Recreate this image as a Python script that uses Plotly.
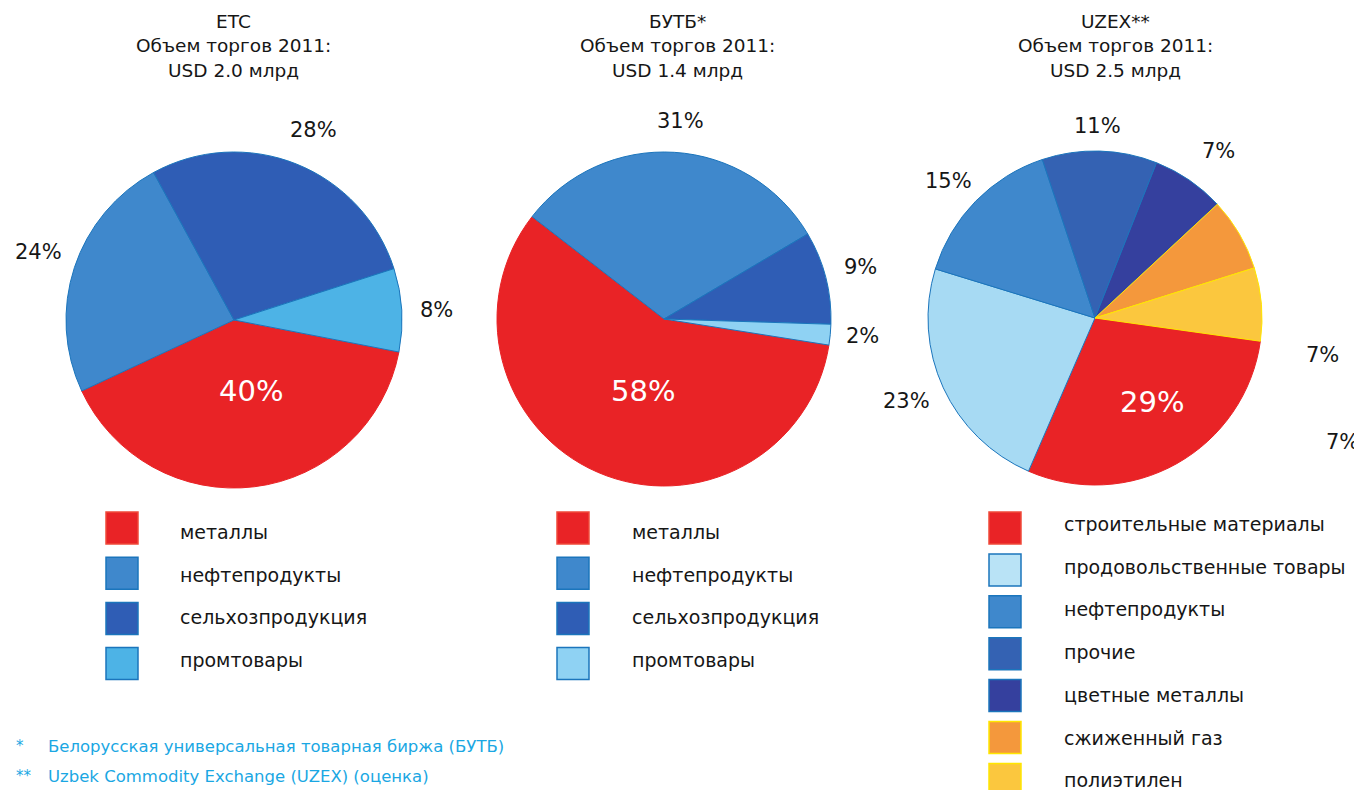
import plotly.graph_objects as go

# page is 1362x790; the browser body has an 8px margin, so the figure is 8px smaller
PAGE_W, PAGE_H = 1362, 790
OFF = 8
W, H = PAGE_W - OFF, PAGE_H - OFF

# ---------------- data ----------------
etc_labels = ["металлы", "нефтепродукты", "сельхозпродукция", "промтовары"]
etc_values = [40, 24, 28, 8]

butb_labels = ["металлы", "нефтепродукты", "сельхозпродукция", "промтовары"]
butb_values = [58, 31, 9, 2]

uzex_labels = ["строительные материалы", "продовольственные товары", "нефтепродукты",
               "прочие", "цветные металлы", "сжиженный газ", "полиэтилен"]
uzex_values = [29, 23, 15, 11, 7, 7, 7]

title_names = ["ETC", "БУТБ*", "UZEX**"]
title_sub = "Объем торгов 2011:"
title_volumes = ["USD 2.0 млрд", "USD 1.4 млрд", "USD 2.5 млрд"]

footnotes = [("*", "Белорусская универсальная товарная биржа (БУТБ)"),
             ("**", "Uzbek Commodity Exchange (UZEX) (оценка)")]

# ---------------- styles ----------------
RED = "#e92326"
OIL = "#3f88cc"
AGRO = "#2f5db5"
IND = "#4db3e6"
FOOD = "#a7daf3"
OTHER = "#3462b3"
NONFER = "#35409e"
GAS = "#f4983c"
POLY = "#fbc73e"
EDGE_BLUE = "#1b75bc"
EDGE_YEL = "#ffe600"
TXT = "#161616"
NOTE = "#1aa7e3"

etc_colors = [RED, OIL, AGRO, IND]
butb_colors = [RED, OIL, AGRO, "#8fd2f3"]
uzex_colors = [RED, FOOD, OIL, OTHER, NONFER, GAS, POLY]
etc_edges = [RED, EDGE_BLUE, EDGE_BLUE, EDGE_BLUE]
butb_edges = [RED, EDGE_BLUE, EDGE_BLUE, EDGE_BLUE]
uzex_edges = [RED, EDGE_BLUE, EDGE_BLUE, EDGE_BLUE, EDGE_BLUE, EDGE_YEL, EDGE_YEL]

FONT = "DejaVu Sans, Arial, sans-serif"

# placement (page pixels) of the percentage labels, one per slice
etc_label_pos = [(251, 391), (38, 252), (313, 130), (436, 310)]
butb_label_pos = [(643, 391), (680, 121), (860, 267), (862, 336)]
uzex_label_pos = [(1152, 402), (906, 401), (948, 181), (1097, 126), (1218, 151),
                  (1322, 355), (1342, 442)]


def px(x):
    return (x - OFF) / W


def py(y):
    return 1 - (y - OFF) / H


def dom(cx, cy, r):
    return dict(x=[px(cx - r), px(cx + r)], y=[py(cy + r), py(cy - r)])


pies = [
    (etc_labels, etc_values, etc_colors, etc_edges, 101, (234, 320, 168), etc_label_pos),
    (butb_labels, butb_values, butb_colors, butb_edges, 99, (664, 319, 167), butb_label_pos),
    (uzex_labels, uzex_values, uzex_colors, uzex_edges, 98, (1095, 318, 167), uzex_label_pos),
]

annotations = []
shapes = []

fig = go.Figure()
for labels, values, colors, edges, rot, (cx, cy, r), lpos in pies:
    fig.add_trace(go.Pie(
        labels=labels, values=values, sort=False, direction="clockwise",
        rotation=rot, domain=dom(cx, cy, r),
        marker=dict(colors=colors, line=dict(color=edges, width=1)),
        textinfo="none",
        showlegend=False, hoverinfo="label+percent",
    ))
    for k, (v, pos) in enumerate(zip(values, lpos)):
        inside = k == 0
        annotations.append(dict(x=px(pos[0]), y=py(pos[1]), xref="paper", yref="paper",
                                text=f"{v}%", showarrow=False,
                                xanchor="center", yanchor="middle",
                                font=dict(size=29 if inside else 21,
                                          color="white" if inside else TXT, family=FONT)))

# titles
title_x = [234, 677, 1115]
for name, vol, x in zip(title_names, title_volumes, title_x):
    for j, line in enumerate([name, title_sub, vol]):
        annotations.append(dict(x=px(x), y=py(22 + 24 * j), xref="paper", yref="paper",
                                text=line, showarrow=False, xanchor="center", yanchor="middle",
                                font=dict(size=18.5, color=TXT, family=FONT)))

# custom legends (one per pie): swatch x, text x, swatch y0/step, text y0/step
legends = [
    (etc_labels, etc_colors, etc_edges, 106, 178, 528, 45.2, 532, 42.5),
    (butb_labels, butb_colors, butb_edges, 557, 630, 528, 45.2, 532, 42.5),
    (uzex_labels, [RED, "#b9e3f6", OIL, OTHER, NONFER, GAS, POLY], uzex_edges,
     989, 1062, 528, 41.9, 524, 42.7),
]
for labels, colors, edges, sx, tx, y0, step, ty0, tstep in legends:
    for i, (lab, col, ed) in enumerate(zip(labels, colors, edges)):
        yc = y0 + i * step
        shapes.append(dict(type="rect", xref="paper", yref="paper",
                           x0=px(sx), x1=px(sx + 32), y0=py(yc + 16), y1=py(yc - 16),
                           fillcolor=col,
                           line=dict(color=ed if ed != RED else "#f04a3a", width=1.5)))
        annotations.append(dict(x=px(tx), y=py(ty0 + i * tstep), xref="paper", yref="paper",
                                text=lab, showarrow=False, xanchor="left", yanchor="middle",
                                font=dict(size=19, color=TXT, family=FONT)))

# footnotes
for i, (mark, txt) in enumerate(footnotes):
    yc = 746 + i * 30
    annotations.append(dict(x=px(14), y=py(yc), xref="paper", yref="paper", text=mark,
                            showarrow=False, xanchor="left", yanchor="middle",
                            font=dict(size=15, color=NOTE, family=FONT)))
    annotations.append(dict(x=px(46), y=py(yc), xref="paper", yref="paper", text=txt,
                            showarrow=False, xanchor="left", yanchor="middle",
                            font=dict(size=16.5, color=NOTE, family=FONT)))

fig.update_layout(
    width=W, height=H,
    margin=dict(l=0, r=0, t=0, b=0),
    paper_bgcolor="white", plot_bgcolor="white",
    annotations=annotations, shapes=shapes,
    font=dict(family=FONT),
)

fig.write_html("out.html")
